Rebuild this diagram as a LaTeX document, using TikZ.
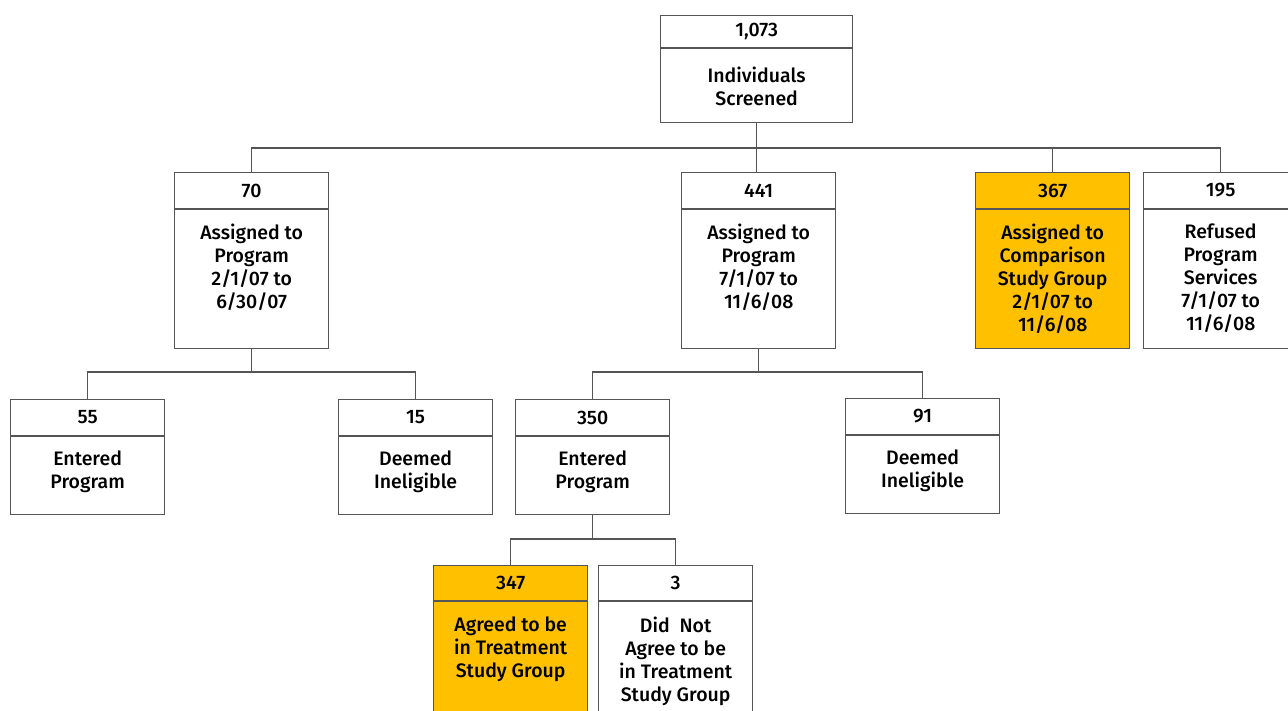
\documentclass[tikz,border=0pt]{standalone}
\usepackage{fontspec}
\setmainfont{Fira Sans}[UprightFont={* Medium},BoldFont={* SemiBold}]
\definecolor{boxorange}{HTML}{FFC000}
\definecolor{linegray}{HTML}{555555}
\tikzset{
  box/.style={draw=linegray, line width=1.3pt, minimum width=154pt, inner sep=0pt},
  boxline/.style={draw=linegray, line width=1.3pt},
  conn/.style={draw=linegray, line width=1.5pt},
  numlbl/.style={inner sep=0pt, font=\fontsize{19.5}{23}\selectfont},
  bodylbl/.style={inner sep=0pt, anchor=north, align=center, font=\fontsize{19.5}{23}\selectfont},
  whitefill/.style={fill=white},
  orangefill/.style={fill=boxorange}
}
\newcommand\chartbox[8]{%
  \node[box,#5,minimum height=#4,anchor=north west] (#1) at (#2,#3) {};
  \draw[boxline] ([yshift=-#8pt]#1.north west) -- ([yshift=-#8pt]#1.north east);
  \node[numlbl] (#1-n) at ([yshift={-0.5*#8}]#1.north) {#6};
  \node[bodylbl] (#1-t) at ([yshift=-52pt]#1.north) {#7};
}
\begin{document}
\begin{tikzpicture}[x=1pt,y=-1pt]
\useasboundingbox (0,0) rectangle (1288,710);
\begin{scope}
\clip (0,0) rectangle (1288,710);
\fill[white] (0,0) rectangle (1288,710);
% boxes
\chartbox{top}{660}{15}{107}{whitefill,minimum width=192pt}{1,073}{Individuals\\Screened}{33}
\chartbox{b70}{174}{172}{176}{whitefill}{70}{Assigned to\\Program\\2/1/07 to\\6/30/07}{37}
\chartbox{b441}{681}{172}{176}{whitefill}{441}{Assigned to\\Program\\7/1/07 to\\11/6/08}{37}
\chartbox{b367}{975}{172}{176}{orangefill}{367}{Assigned to\\Comparison\\Study Group\\2/1/07 to\\11/6/08}{37}
\chartbox{b195}{1143}{172}{176}{whitefill}{195}{Refused\\Program\\Services\\7/1/07 to\\11/6/08}{37}
\chartbox{b55}{10}{399}{115}{whitefill}{55}{Entered\\Program}{37}
\chartbox{b15}{338}{399}{115}{whitefill}{15}{Deemed\\Ineligible}{37}
\chartbox{b350}{515}{399}{115}{whitefill}{350}{Entered\\Program}{37}
\chartbox{b91}{845}{398}{115}{whitefill}{91}{Deemed\\Ineligible}{37}
\chartbox{b347}{433}{565}{170}{orangefill}{347}{Agreed to be\\in Treatment\\Study Group}{36}
\chartbox{b3}{598}{565}{170}{whitefill}{3}{Did\ \ Not\\Agree to be\\in Treatment\\Study Group}{36}
% connectors
\coordinate (bus1) at (0,148);
\coordinate (bus2) at (0,372);
\coordinate (bus3) at (0,539);
\draw[conn] (top.south) -- (top.south |- b441.north);
\draw[conn] (b70.north) -- (b70.north |- bus1) -- (b195.north |- bus1) -- (b195.north);
\draw[conn] (b367.north) -- (b367.north |- bus1);
\draw[conn] (b70.south) -- (b70.south |- bus2);
\draw[conn] (b55.north) -- (b55.north |- bus2) -- (b15.north |- bus2) -- (b15.north);
\draw[conn] (b441.south) -- (b441.south |- bus2);
\draw[conn] (b350.north) -- (b350.north |- bus2) -- (b91.north |- bus2) -- (b91.north);
\draw[conn] (b350.south) -- (b350.south |- bus3);
\draw[conn] (b347.north) -- (b347.north |- bus3) -- (b3.north |- bus3) -- (b3.north);
\end{scope}
\end{tikzpicture}
\end{document}
